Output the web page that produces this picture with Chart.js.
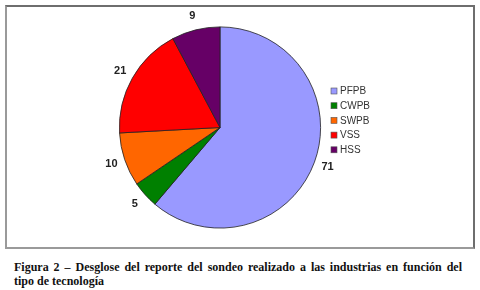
<!DOCTYPE html>
<html><head><meta charset="utf-8">
<script src="https://cdn.jsdelivr.net/npm/chart.js@4"></script>
<style>
html,body{margin:0;padding:0;background:#fff;width:480px;height:290px;overflow:hidden;}
#box{position:absolute;left:5px;top:5px;width:466px;height:240px;border:2px solid #6e6e6e;border-left-color:#9a9a9a;border-bottom-color:#9a9a9a;}
#wrap{position:absolute;left:0;top:0;width:480px;height:250px;}
.cap{position:absolute;left:14px;width:448px;font:bold 12px "Liberation Serif","Times New Roman",serif;line-height:14px;color:#111;white-space:nowrap;}
#cap1{top:260px;text-align:justify;text-align-last:justify;}
#cap2{top:274px;text-align:left;}
</style></head>
<body>
<div id="box"></div>
<div id="wrap"><canvas id="c" width="480" height="250"></canvas></div>
<div class="cap" id="cap1">Figura 2 – Desglose del reporte del sondeo realizado a las industrias en función del</div>
<div class="cap" id="cap2">tipo de tecnología</div>
<script>
const categories = ["PFPB","CWPB","SWPB","VSS","HSS"];
const values = [71,5,10,21,9];
const colors = ["#9999FF","#008000","#FF6600","#FF0000","#660066"];

const labelPlugin = {
  id:'outLabels',
  afterDatasetsDraw(chart){
    const ctx = chart.ctx;
    const meta = chart.getDatasetMeta(0);
    ctx.save();
    ctx.font = 'bold 11px "Liberation Sans", Arial, sans-serif';
    ctx.fillStyle = '#222';
    ctx.textAlign = 'center';
    ctx.textBaseline = 'middle';
    meta.data.forEach((arc,i)=>{
      const p = arc.getProps(['x','y','startAngle','endAngle','outerRadius'],true);
      const a = (p.startAngle+p.endAngle)/2;
      const r = p.outerRadius + 14;
      ctx.fillText(String(values[i]), p.x + Math.cos(a)*r, p.y + Math.sin(a)*r);
    });
    // legend
    const lx = 331, ly0 = 91, step = 14.7;
    ctx.font = '10px "Liberation Sans", Arial, sans-serif';
    ctx.textAlign = 'left';
    categories.forEach((c,i)=>{
      const y = ly0 + i*step;
      ctx.fillStyle = colors[i];
      ctx.fillRect(lx, y-3, 6, 6);
      ctx.strokeStyle = '#555';
      ctx.lineWidth = 0.6;
      ctx.strokeRect(lx, y-3, 6, 6);
      ctx.fillStyle = '#333';
      ctx.fillText(c, lx+9, y+0.5);
    });
    ctx.restore();
  }
};

new Chart(document.getElementById('c'),{
  type:'pie',
  data:{labels:categories,datasets:[{data:values,backgroundColor:colors,borderColor:'#222',borderWidth:0.8}]},
  options:{
    responsive:false,animation:false,
    layout:{padding:{left:119,right:159,top:26,bottom:21}},
    plugins:{legend:{display:false},tooltip:{enabled:false}}
  },
  plugins:[labelPlugin]
});
</script>
</body></html>
